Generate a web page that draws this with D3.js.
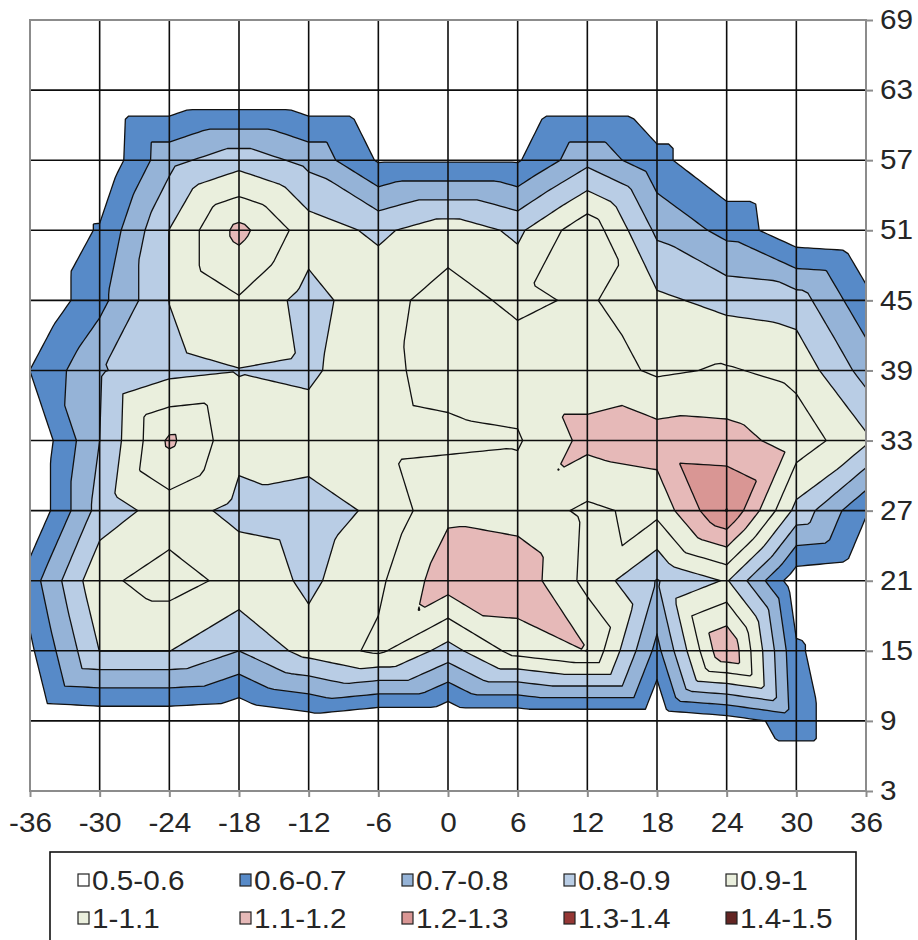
<!DOCTYPE html>
<html><head><meta charset="utf-8">
<script src="https://cdn.jsdelivr.net/npm/d3@7"></script>
<style>
html,body{margin:0;padding:0;background:#fff;}
svg{display:block;font-family:"Liberation Sans",Arial,sans-serif;}
</style></head><body>
<svg id="chart" width="918" height="940"></svg>
<script>
// x categories (columns) and y series (rows, top to bottom)
const xCategories = [-36,-30,-24,-18,-12,-6,0,6,12,18,24,30,36];
const ySeries = [69,63,57,51,45,39,33,27,21,15,9,3];

// surface values, one array per y row (x = -36 ... 36)
const row69 = [0.5,0.5,0.5,0.5,0.5,0.5,0.5,0.5,0.5,0.5,0.5,0.5,0.5];
const row63 = [0.5,0.5,0.5,0.5,0.5,0.5,0.5,0.5,0.5,0.5,0.5,0.5,0.5];
const row57 = [0.5,0.51,0.77,0.86,0.77,0.59,0.59,0.59,0.77,0.63,0.5,0.5,0.5];
const row51 = [0.5,0.61,0.902,1.13,0.95,0.88,0.96,0.88,1.07,0.78,0.67,0.52,0.5];
const row45 = [0.5,0.67,0.902,0.99,0.86,0.97,1.035,0.98,1.015,0.92,0.87,0.85,0.63];
const row39 = [0.601,0.79,0.87,0.897,0.88,0.98,1.03,1.05,1.05,0.985,1.01,0.97,0.76];
const row33 = [0.5,0.8,1.12,0.93,0.953,0.97,0.98,0.99,1.13,1.15,1.14,1.06,0.92];
const row27 = [0.5,0.84,0.95,0.87,0.85,0.92,1.08,1.06,0.98,1.03,1.305,0.87,0.61];
const row21 = [0.65,0.98,1.04,0.97,0.88,0.98,1.16,1.17,0.97,0.795,0.91,0.53,0.5];
const row15 = [0.58,0.902,0.902,0.8,0.94,1.02,0.86,1.04,1.102,0.67,1.205,0.615,0.5];
const row9  = [0.5,0.52,0.52,0.5,0.55,0.5,0.5,0.5,0.5,0.5,0.55,0.64,0.5];
const row3  = [0.5,0.5,0.5,0.5,0.5,0.5,0.5,0.5,0.5,0.5,0.5,0.5,0.5];

// contour bands
const bandStarts = [0.5,0.6,0.7,0.8,0.9,1.0,1.1,1.2,1.3,1.4];
const bandLabels = ["0.5-0.6","0.6-0.7","0.7-0.8","0.8-0.9","0.9-1","1-1.1","1.1-1.2","1.2-1.3","1.3-1.4","1.4-1.5"];
const bandColors = ["#FFFFFF","#578AC8","#95B3D7","#B9CDE5","#EAEFDD","#EAEFDD","#E6B9B8","#D99694","#953735","#632523"];

const rows = [row69,row63,row57,row51,row45,row39,row33,row27,row21,row15,row9,row3];
const nx = xCategories.length, ny = ySeries.length;

// Render the surface the way a spreadsheet contour chart does: each grid cell is split
// into two triangles along the diagonal with the higher mean, and the surface is linear
// inside each triangle. It is sampled on a finer raster for d3.contours.
const K = 12;
const fnx = (nx - 1) * K + 1, fny = (ny - 1) * K + 1;
const surface = new Array(fnx * fny);
for (let fj = 0; fj < fny; fj++) {
  const cj = Math.min(Math.floor(fj / K), ny - 2), w = fj / K - cj;
  for (let fi = 0; fi < fnx; fi++) {
    const ci = Math.min(Math.floor(fi / K), nx - 2), u = fi / K - ci;
    const TL = rows[cj][ci], TR = rows[cj][ci + 1], BL = rows[cj + 1][ci], BR = rows[cj + 1][ci + 1];
    let v;
    if (TL + BR >= TR + BL) {
      v = (u >= w) ? TL + u * (TR - TL) + w * (BR - TR) : TL + w * (BL - TL) + u * (BR - BL);
    } else {
      v = (u + w <= 1) ? TL + u * (TR - TL) + w * (BL - TL) : BR + (1 - u) * (BL - BR) + (1 - w) * (TR - BR);
    }
    surface[fj * fnx + fi] = v;
  }
}

const L = 30, R = 866, T = 20, B = 791;
const TEXT_STRETCH = 1.1, FONT = 27;
const x = d3.scaleLinear().domain([-36,36]).range([L,R]);
const y = d3.scaleLinear().domain([3,69]).range([B,T]);

const svg = d3.select("#chart");
svg.append("defs").append("clipPath").attr("id","plotclip")
  .append("rect").attr("x",L).attr("y",T).attr("width",R-L).attr("height",B-T);

const stepX = (xCategories[1] - xCategories[0]) / K;
const stepY = (ySeries[1] - ySeries[0]) / K;
const proj = d3.geoTransform({
  point: function(px, py) {
    const xv = xCategories[0] + (px - 0.5) * stepX;
    const yv = ySeries[0] + (py - 0.5) * stepY;
    this.stream.point(x(xv), y(yv));
  }
});
const path = d3.geoPath(proj);
const contourGen = d3.contours().size([fnx, fny]);

const plot = svg.append("g").attr("clip-path","url(#plotclip)");
plot.append("rect").attr("x",L).attr("y",T).attr("width",R-L).attr("height",B-T).attr("fill",bandColors[0]);

bandStarts.slice(1).forEach((t, i) => {
  const c = contourGen.contour(surface, t);
  plot.append("path")
    .attr("d", path(c))
    .attr("fill", bandColors[i+1])
    .attr("stroke", "#111")
    .attr("stroke-width", 1.3)
    .attr("stroke-linejoin","round");
});

// gridlines
const grid = svg.append("g");
xCategories.slice(1,-1).forEach(v => {
  grid.append("line").attr("x1",x(v)).attr("x2",x(v)).attr("y1",T).attr("y2",B)
    .attr("stroke","#0d0d0d").attr("stroke-width",1.6);
});
ySeries.slice(1,-1).forEach(v => {
  grid.append("line").attr("x1",L).attr("x2",R).attr("y1",y(v)).attr("y2",y(v))
    .attr("stroke","#0d0d0d").attr("stroke-width",1.6);
});
svg.append("rect").attr("x",L).attr("y",T).attr("width",R-L).attr("height",B-T)
  .attr("fill","none").attr("stroke","#8c8c8c").attr("stroke-width",2);

// axes
const xAxis = d3.axisBottom(x).tickValues(xCategories).tickFormat(d => String(d)).tickSize(6).tickPadding(16);
const gx = svg.append("g").attr("transform",`translate(0,${B})`).call(xAxis);
const yAxis = d3.axisRight(y).tickValues(ySeries).tickFormat(d => String(d)).tickSize(7).tickPadding(7);
const gy = svg.append("g").attr("transform",`translate(${R},0)`).call(yAxis);
[gx, gy].forEach(g => {
  g.select(".domain").remove();
  g.selectAll(".tick line").attr("stroke","#8c8c8c").attr("stroke-width",2);
  g.selectAll(".tick text").attr("font-size",FONT).attr("fill","#262626")
    .attr("font-family","'Liberation Sans', Arial, sans-serif")
    .attr("transform",`scale(${TEXT_STRETCH},1)`);
});
gy.selectAll(".tick text").attr("x", 14 / TEXT_STRETCH);

// legend
const lg = svg.append("g");
lg.append("rect").attr("x",50).attr("y",852).attr("width",806).attr("height",110)
  .attr("fill","#fff").attr("stroke","#111").attr("stroke-width",1.6);
bandLabels.forEach((lab, i) => {
  const col = i % 5, r = Math.floor(i / 5);
  const sx = 78 + col * 162, cy = 880 + r * 38;
  lg.append("rect").attr("x",sx).attr("y",cy-6).attr("width",11).attr("height",12)
    .attr("fill",bandColors[i]).attr("stroke","#222").attr("stroke-width",1.2);
  lg.append("g").attr("transform",`translate(${sx+14},${cy+10}) scale(${TEXT_STRETCH},1)`)
    .append("text").attr("x",0).attr("y",0).attr("font-size",FONT)
    .attr("fill","#262626").text(lab);
});
</script>
</body></html>
